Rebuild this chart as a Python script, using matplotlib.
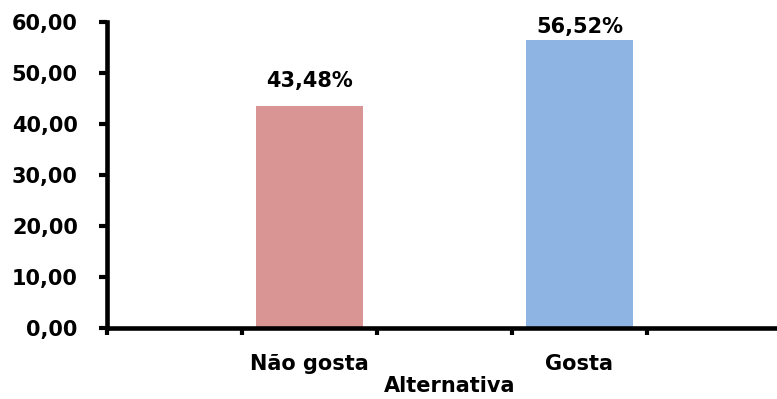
import numpy as np
import matplotlib
matplotlib.use("Agg")
import matplotlib.pyplot as plt

# category slots along the axis; empty slots leave the gaps between bars
categories = ["", "Não gosta", "", "Gosta", ""]
values = [np.nan, 43.48, np.nan, 56.52, np.nan]
colors = ["white", "#D99594", "white", "#8EB4E3", "white"]
y_ticks = [0, 10, 20, 30, 40, 50, 60]
x_title = "Alternativa"

plt.rcParams["font.family"] = ["DejaVu Sans"]
plt.rcParams["font.weight"] = "bold"

fig = plt.figure(figsize=(7.77, 3.99), dpi=100)
ax = fig.add_axes([107 / 777, 71 / 399, 675 / 777, 306 / 399])

x = np.arange(len(categories))
ax.bar(x, values, width=0.79, color=colors, zorder=2)

# value labels, kept inside the plot area near the top
for xi, v in zip(x, values):
    if np.isnan(v):
        continue
    ax.text(xi, min(v + 3.0, 57.0), f"{v:.2f}%".replace(".", ","),
            ha="center", va="bottom", fontsize=15, fontweight="bold")

ax.set_xlim(-0.5, len(categories) - 0.5)
ax.set_ylim(0, 60)
ax.set_yticks(y_ticks)
ax.set_yticklabels([f"{t:.2f}".replace(".", ",") for t in y_ticks])

# ticks on category boundaries, labels centred under the bars
ax.set_xticks(np.arange(len(categories) + 1) - 0.5)
ax.set_xticklabels([])
ax.set_xticks(x, minor=True)
ax.set_xticklabels(categories, minor=True)
ax.tick_params(axis="x", which="minor", length=0, pad=19, labelsize=15)
ax.tick_params(axis="x", which="major", length=5, width=3, direction="out")
ax.tick_params(axis="y", length=6, width=3, direction="out", pad=15, labelsize=15)

for side in ("top", "right"):
    ax.spines[side].set_visible(False)
for side in ("left", "bottom"):
    ax.spines[side].set_linewidth(3.3)
ax.spines["bottom"].set_zorder(3)

ax.text(0.508, -0.19, x_title, transform=ax.transAxes, ha="center", va="center",
        fontsize=15, fontweight="bold")

fig.savefig("out.png", dpi=100)
